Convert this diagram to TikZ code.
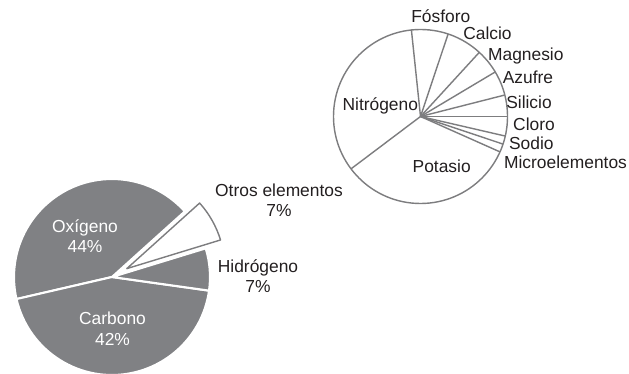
\documentclass[tikz,border=0pt]{standalone}
\usepackage{fontspec}
\setmainfont{Liberation Sans}
\definecolor{piegray}{RGB}{128,129,132}
\definecolor{linegray}{RGB}{125,125,127}
\definecolor{txt}{RGB}{35,31,32}
\begin{document}
\begin{tikzpicture}[x=0.2mm,y=0.2mm,font=\fontsize{9.9}{11.7}\selectfont,
    bigslice/.style={fill=piegray,draw=white,line width=1.2pt,line join=round},
    othslice/.style={fill=white,draw=linegray,line width=0.8pt,line join=round},
    smallpie/.style={draw=linegray,line width=0.8pt},
    lbl/.style={anchor=base,inner sep=0pt,text=txt,align=center},
    inlbl/.style={lbl,text=white}]
    \useasboundingbox (0,0) rectangle (629,373);
    % large pie
    \coordinate (cb) at (112,96);
    \coordinate (co) at ([shift={(29.5:17)}]cb);
    \draw[bigslice] (cb) -- ++(42:98) arc[start angle=42,end angle=193,radius=98] -- cycle;
    \draw[bigslice] (cb) -- ++(193:98) arc[start angle=193,end angle=352,radius=98] -- cycle;
    \draw[bigslice] (cb) -- ++(-8:98) arc[start angle=-8,end angle=17,radius=98] -- cycle;
    \draw[othslice] (co) -- ++(17:98) arc[start angle=17,end angle=42,radius=98] -- cycle;
    \node[inlbl] (oxi) at (85,120.3) {Oxígeno\\44\%};
    \node[inlbl] (car) at (112.5,28) {Carbono\\42\%};
    \node[lbl] (otr) at (279,156.3) {Otros elementos\\7\%};
    \node[lbl] (hid) at (258,80) {Hidrógeno\\7\%};
    % small pie
    \coordinate (cs) at (420.5,256.5);
    \draw[smallpie,fill=white] (cs) circle[radius=87];
    \foreach \a in {96,71.5,47.5,30.8,14.3,0,-13,-18.5,-24,217}
        \draw[smallpie] (cs) -- ++(\a:87);
    \node[lbl] (nit) at (380.3,262.3) {Nitrógeno};
    \node[lbl] (pot) at (441.7,200.3) {Potasio};
    \node[lbl] (fos) at (440.8,350.3) {Fósforo};
    \node[lbl] (cal) at (487.5,333.7) {Calcio};
    \node[lbl] (mag) at (525.8,312) {Magnesio};
    \node[lbl] (azu) at (528,289.7) {Azufre};
    \node[lbl] (sil) at (529,264.7) {Silicio};
    \node[lbl] (clo) at (534,242.3) {Cloro};
    \node[lbl] (sod) at (531.3,223.7) {Sodio};
    \node[lbl] (mic) at (565.5,204.7) {Microelementos};
\end{tikzpicture}
\end{document}
